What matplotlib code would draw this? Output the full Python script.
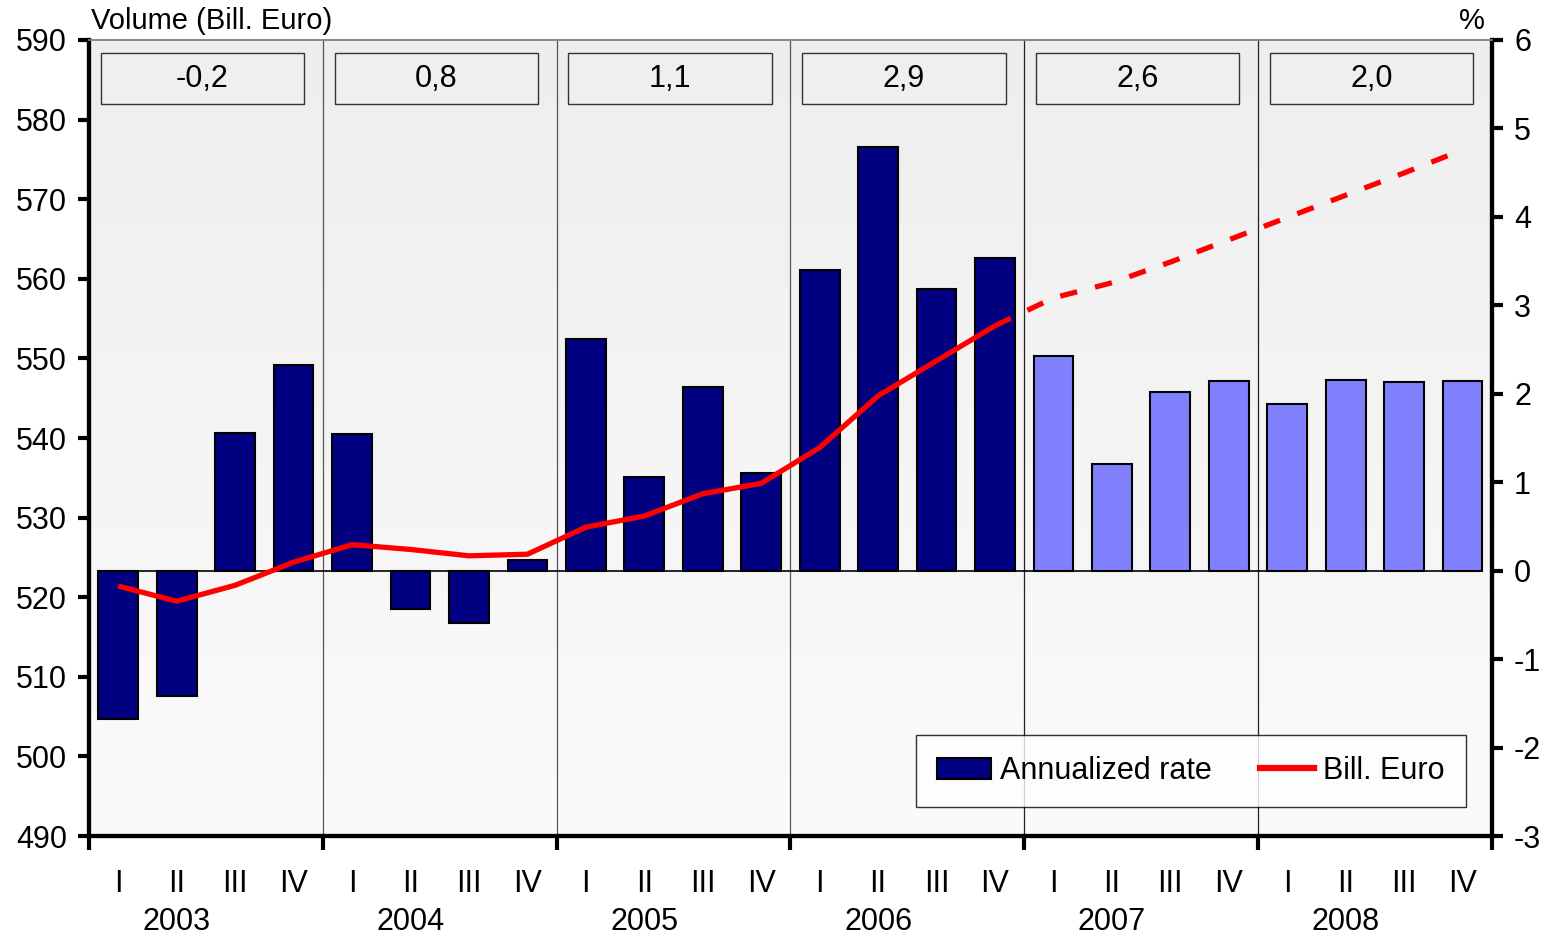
import numpy as np
import matplotlib
matplotlib.use("Agg")
import matplotlib.pyplot as plt
from matplotlib.patches import Rectangle, Patch
from matplotlib.lines import Line2D

plt.rcParams['font.family'] = ['Liberation Sans', 'DejaVu Sans']

# data
years = ["2003", "2004", "2005", "2006", "2007", "2008"]
quarters = ["I", "II", "III", "IV"]
annual_growth = ["-0,2", "0,8", "1,1", "2,9", "2,6", "2,0"]

# annualized rate (%), right axis
rate_actual = [-1.68, -1.42, 1.56, 2.32,
               1.55, -0.43, -0.59, 0.12,
               2.62, 1.06, 2.08, 1.10,
               3.40, 4.79, 3.18, 3.54]
rate_forecast = [2.43, 1.21, 2.02, 2.14,
                 1.88, 2.16, 2.13, 2.15]

# volume (bill. euro), left axis
volume_actual = [521.4, 519.5, 521.5, 524.4,
                 526.6, 526.0, 525.2, 525.4,
                 528.8, 530.2, 533.0, 534.3,
                 538.8, 545.3, 549.7, 554.1]
volume_forecast = [554.1, 557.6, 559.5, 562.1, 564.9,
                   567.7, 570.5, 573.3, 576.2]

n_act = len(rate_actual)
n = n_act + len(rate_forecast)
x = np.arange(n) + 0.5
fs = 21

fig = plt.figure(figsize=(15.54, 9.36), dpi=100)
ax = fig.add_axes([0.0573, 0.1068, 0.9027, 0.8505])
ax2 = ax.twinx()
ax.set_zorder(ax2.get_zorder() + 1)
ax.patch.set_visible(False)

# background gradient
grad = np.linspace(0, 1, 256).reshape(-1, 1)
ax2.imshow(grad, extent=[0, n, -3, 6], aspect='auto', cmap=matplotlib.colors.LinearSegmentedColormap.from_list(
    "bg", ["#eeeeee", "#fbfbfb"]), origin='upper', zorder=0)

# year separators
for k in range(1, len(years)):
    ax2.axvline(4 * k, color='#555555' if k < 4 else '#222222', lw=0.9, zorder=1)

# bars
ax2.bar(x[:n_act], rate_actual, width=0.68, color='#000080', edgecolor='black', lw=1.5, zorder=2)
ax2.bar(x[n_act:], rate_forecast, width=0.68, color='#8080ff', edgecolor='black', lw=1.5, zorder=2)
ax2.plot([0.15, n - 0.2], [0, 0], color='black', lw=1.2, zorder=3)
ax2.set_ylim(-3, 6)
ax2.set_xlim(0, n)
ax2.set_yticks(range(-3, 7))
ax2.set_yticklabels([str(v) for v in range(-3, 7)])

# line
ax.plot(x[:n_act], volume_actual, color='#ff0000', lw=3.8, zorder=5, solid_capstyle='butt')
ax.plot(x[n_act - 1:], volume_forecast, color='#ff0000', lw=3.8, zorder=5,
        linestyle=(0, (3.3, 3.5)), dash_capstyle='butt')
ax.set_ylim(490, 590)
ax.set_xlim(0, n)
ax.set_yticks(range(490, 591, 10))

# annual growth boxes
for k, lab in enumerate(annual_growth):
    x0 = 4 * k + 0.2
    ax.add_patch(Rectangle((x0, 582.0), 3.48, 6.4, facecolor='#efefef',
                           edgecolor='#333333', lw=1.0, zorder=6))
    ax.text(x0 + 1.74, 585.1, lab, ha='center', va='center', fontsize=fs + 1, zorder=7)

# x axis: quarters and years
ax.set_xticks(x)
ax.set_xticklabels(quarters * len(years), fontsize=fs + 1)
ax.tick_params(axis='x', which='major', length=0, pad=24)
ax.set_xticks(np.arange(0, n + 1, 4), minor=True)
ax.tick_params(axis='x', which='minor', length=10, width=3, direction='out')
for k, yr in enumerate(years):
    ax.text(4 * k + 1.5, -0.108, yr, transform=ax.get_xaxis_transform(),
            ha='center', va='center', fontsize=fs + 1)

ax.tick_params(axis='y', length=8, width=3, labelsize=fs + 1, pad=8)
ax2.tick_params(axis='y', length=8, width=3, labelsize=fs + 1, pad=8)
ax2.tick_params(axis='x', length=0, labelbottom=False)

for a in (ax, ax2):
    a.spines['left'].set_linewidth(3)
    a.spines['right'].set_linewidth(3)
    a.spines['bottom'].set_linewidth(3)
    a.spines['top'].set_color('#888888')
    a.spines['top'].set_linewidth(1.2)

fig.text(0.0585, 0.978, "Volume (Bill. Euro)", ha='left', va='center', fontsize=fs)
fig.text(0.947, 0.978, "%", ha='center', va='center', fontsize=fs)

handles = [Patch(facecolor='#000080', edgecolor='black', lw=1.5),
           Line2D([0], [0], color='#ff0000', lw=4.5)]
leg = ax.legend(handles, ["Annualized rate", "Bill. Euro"], ncol=2, loc='lower right',
                bbox_to_anchor=(0.9815, 0.036), fontsize=fs + 1, frameon=True, fancybox=False,
                edgecolor='black', borderpad=0.7, columnspacing=1.6, handlelength=1.75,
                handletextpad=0.3, borderaxespad=0)
leg.get_frame().set_linewidth(1.0)
leg.set_zorder(10)

fig.savefig("out.png", dpi=100)
